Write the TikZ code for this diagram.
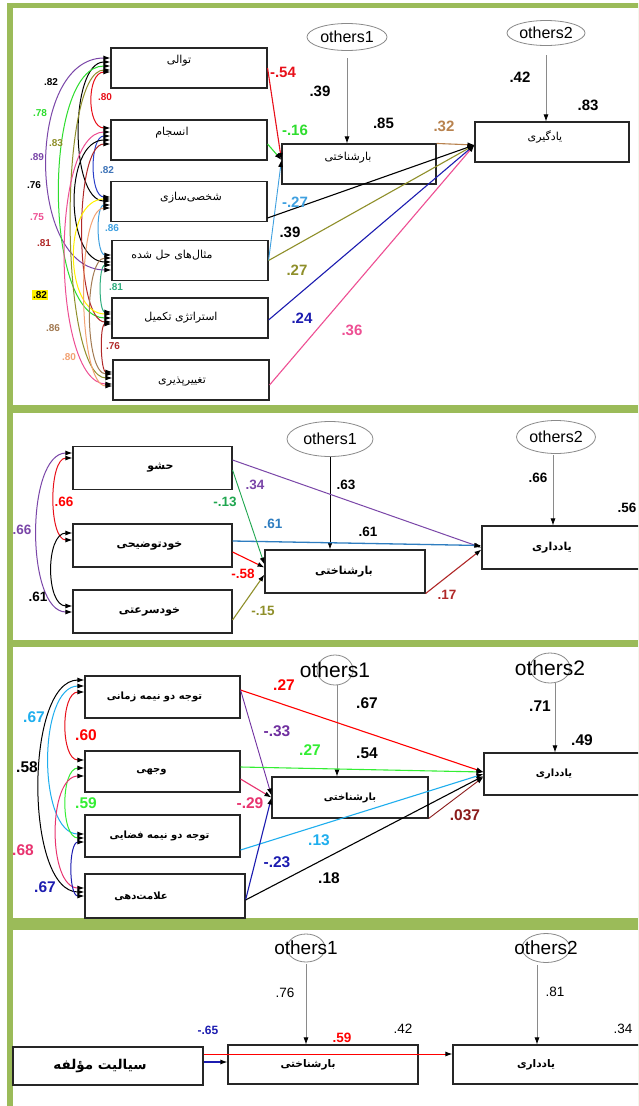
\documentclass[tikz,border=0pt]{standalone}
\usepackage{fontspec}
\setmainfont{Liberation Sans}
\newfontfamily\fa[Script=Arabic]{DejaVu Sans}
\TeXXeTstate=1
\usetikzlibrary{arrows.meta,shapes.geometric}
\definecolor{frameg}{HTML}{9BBB59}
\definecolor{cred}{HTML}{E8101A}
\definecolor{cgreen}{HTML}{2EDD2E}
\definecolor{cgreentwo}{HTML}{1FA64F}
\definecolor{clblue}{HTML}{3FA0E0}
\definecolor{colive}{HTML}{8F8F2A}
\definecolor{cnavy}{HTML}{1C1CB0}
\definecolor{cpink}{HTML}{EE4F93}
\definecolor{cbrown}{HTML}{B8824E}
\definecolor{cpurple}{HTML}{7A46A8}
\definecolor{csteel}{HTML}{3F74B8}
\definecolor{cteal}{HTML}{2FAE7E}
\definecolor{cdred}{HTML}{B02828}
\definecolor{ctan}{HTML}{A27A52}
\definecolor{corange}{HTML}{F2A273}
\definecolor{cyellow}{HTML}{FFF200}
\definecolor{cdblue}{HTML}{2A3FC8}
\definecolor{pblue}{HTML}{1EAEEE}
\definecolor{pgreen}{HTML}{33EE33}
\definecolor{ppink}{HTML}{E8336F}
\definecolor{ppurple}{HTML}{7030A0}
\definecolor{pdred}{HTML}{8B1C1C}
\definecolor{psteel}{HTML}{2E7DC0}
\definecolor{ogray}{HTML}{8A8A8A}
% raise, double horizontal shift, text
\newcommand{\liftt}[3]{\raisebox{#1}[0pt][0pt]{\makebox[0pt]{\hspace*{#2}#3}}}
% double horizontal shift, text
\newcommand{\hsft}[2]{\makebox[0pt]{\hspace*{#1}#2}}
\tikzset{
  >={Latex[length=7pt,width=5pt,color=black]},
  box/.style={draw=black!85, line width=1.1pt, rectangle, inner sep=0pt},
  boxa/.style={box, minimum width=156pt, minimum height=40pt, font=\fa\fontsize{11}{12}\selectfont},
  boxb/.style={box, minimum height=43pt, font=\fa\bfseries\fontsize{11}{13}\selectfont},
  boxc/.style={box, minimum height=42pt, font=\fa\bfseries\fontsize{10}{12}\selectfont},
  boxd/.style={box, minimum height=39pt, font=\fa\bfseries\fontsize{10.5}{12}\selectfont},
  oth/.style={ellipse, draw=ogray, line width=0.8pt, inner sep=0pt},
  oarr/.style={->, draw=ogray, line width=0.8pt},
  pth/.style={->, line width=1.1pt},
  cov/.style={<->, line width=1pt},
  lb/.style={inner sep=0pt, font=\bfseries\fontsize{15}{15}\selectfont},
  lc/.style={inner sep=0pt, font=\bfseries\fontsize{10}{10}\selectfont},
  ld/.style={inner sep=0pt, font=\bfseries\fontsize{13.5}{13.5}\selectfont},
  le/.style={inner sep=0pt, font=\bfseries\fontsize{15.5}{15.5}\selectfont},
  lf/.style={inner sep=0pt, font=\fontsize{13.5}{13.5}\selectfont},
}
\begin{document}
\begin{tikzpicture}[x=1pt,y=-1pt]
\useasboundingbox (0,0) rectangle (638,1106);
\clip (0,0) rectangle (638,1106);
\fill[white] (0,0) rectangle (638,1106);
% frames
\fill[frameg] (7,3) rectangle (640,1110);
\fill[white] (13,8) rectangle (640,405);
\fill[white] (13,413) rectangle (640,640);
\fill[white] (13,647) rectangle (640,918);
\fill[white] (13,930) rectangle (640,1110);

%================ PANEL 1
\node[boxa] (p1a) at (189,68) {\liftt{5pt}{-20pt}{\beginR توالی\endR}};
\node[boxa] (p1b) at (189,140) {\liftt{5pt}{-34pt}{\beginR انسجام\endR}};
\node[boxa] (p1c) at (189,201.5) {\liftt{1.5pt}{4pt}{\beginR شخصی‌سازی\endR}};
\node[boxa] (p1d) at (190,260.5) {\liftt{2.5pt}{-36pt}{\beginR مثال‌های حل شده\endR}};
\node[boxa] (p1e) at (190,318) {\liftt{-2pt}{-18pt}{\beginR استراتژی تکمیل\endR}};
\node[boxa] (p1f) at (191,380) {\liftt{-3pt}{-18pt}{\beginR تغییرپذیری\endR}};
\node[boxa, minimum width=154pt] (p1k) at (359,164) {\liftt{4pt}{-22pt}{\beginR بارشناختی\endR}};
\node[boxa, minimum width=154pt] (p1y) at (552,142) {\liftt{2pt}{-14pt}{\beginR یادگیری\endR}};
\node[oth, minimum width=80pt, minimum height=27pt, font=\fontsize{16}{16}\selectfont] (p1o1) at (347,37) {others1};
\node[oth, minimum width=78pt, minimum height=25pt, font=\fontsize{16}{16}\selectfont] (p1o2) at (546,33) {others2};
\draw[oarr, shorten <=7.5pt] (p1o1.south) -- (p1o1.south |- p1k.north);
\draw[oarr, shorten <=9.5pt] (p1o2.south) -- (p1o2.south |- p1y.north);

% covariances panel 1
\draw[cov, cred]    ([yshift=-4pt]p1a.west)  .. controls +(-24,0) and +(-24,0) .. ([yshift=12pt]p1b.west);
\draw[cov, cdblue]  ([yshift=4pt]p1b.west)   .. controls +(-21,0) and +(-21,0) .. ([yshift=4.5pt]p1c.west);
\draw[cov, clblue]  ([yshift=-3.5pt]p1c.west) .. controls +(-15,0) and +(-15,0) .. ([yshift=5.5pt]p1d.west);
\draw[cov, cteal]   ([yshift=-4.5pt]p1d.west) .. controls +(-13,0) and +(-13,0) .. ([yshift=6pt]p1e.west);
\draw[cov, cdred]   ([yshift=-6pt]p1e.west)  .. controls +(-12,0) and +(-12,0) .. ([yshift=8pt]p1f.west);
\draw[cov, black]   ([yshift=6pt]p1a.west)   .. controls +(-41,0) and +(-41,0) .. ([yshift=0.5pt]p1c.west);
\draw[cov, cpurple] ([yshift=10pt]p1a.west)  .. controls +(-85,0) and +(-85,0) .. ([yshift=-9.5pt]p1d.west);
\draw[cov, cgreen]  ([yshift=2pt]p1a.west)   .. controls +(-68,0) and +(-68,0) .. (p1e.west);
\draw[cov, colive]  ([yshift=-2pt]p1a.west)  .. controls +(-53,0) and +(-53,0) .. ([yshift=2pt]p1f.west);
\draw[cov, black]   (p1b.west)               .. controls +(-47,0) and +(-47,0) .. ([yshift=-1.5pt]p1d.west);
\draw[cov, cdred]   ([yshift=-4pt]p1b.west)  .. controls +(-37,0) and +(-37,0) .. ([yshift=-4pt]p1e.west);
\draw[cov, cpink]   ([yshift=8pt]p1b.west)   .. controls +(-61,0) and +(-61,0) .. ([yshift=-4pt]p1f.west);
\draw[cov, cyellow] ([yshift=2.5pt]p1c.west) .. controls +(-48,0) and +(-48,0) .. ([yshift=4pt]p1e.west);
\draw[cov, corange] ([yshift=-6.5pt]p1c.west) .. controls +(-35,0) and +(-35,0) .. ([yshift=-6pt]p1f.west);
\draw[cov, ctan]    ([yshift=2.5pt]p1d.west) .. controls +(-28,0) and +(-28,0) .. ([yshift=6pt]p1f.west);

% paths panel 1
\draw[pth, cred]   (p1a.east) -- ([yshift=4pt]p1k.west);
\draw[pth, cgreen] ([yshift=-4pt]p1b.east) -- ([yshift=4pt]p1k.west);
\draw[pth, clblue, line width=0.9pt] (p1d.east) -- ([yshift=4pt]p1k.west);
\draw[pth, black]  ([yshift=-16.5pt]p1c.east) -- ([yshift=-3pt]p1y.west);
\draw[pth, colive] (p1d.east) -- ([yshift=-3pt]p1y.west);
\draw[pth, cnavy]  ([yshift=-2pt]p1e.east) -- ([yshift=-3pt]p1y.west);
\draw[pth, cpink]  ([yshift=-5pt]p1f.east) -- ([yshift=-3pt]p1y.west);
\draw[pth, cbrown] (p1k.north east) -- ([yshift=-3pt]p1y.west);

% labels panel 1
\node[lb, text=cred]   (q1)  at (283,72)  {-.54};
\node[lb]              (q2)  at (320,91)  {.39};
\node[lb, text=cgreen] (q3)  at (295,130) {-.16};
\node[lb]              (q4)  at (383.5,123) {.85};
\node[lb, text=cbrown] (q5)  at (444,126) {.32};
\node[lb]              (q6)  at (520,77)  {.42};
\node[lb]              (q7)  at (588,105) {.83};
\node[lb, text=clblue] (q8)  at (295,202) {-.27};
\node[lb]              (q9)  at (290,232) {.39};
\node[lb, text=colive] (q10) at (297,270) {.27};
\node[lb, text=cnavy]  (q11) at (302,318) {.24};
\node[lb, text=cpink]  (q12) at (352,330) {.36};

\node[lc]               (c1)  at (51,82)  {.82};
\node[lc, text=cred]    (c2)  at (105,97) {.80};
\node[lc, text=cgreen]  (c3)  at (40,113) {.78};
\node[lc, text=colive]  (c4)  at (56,143) {.83};
\node[lc, text=cpurple] (c5)  at (37,157) {.89};
\node[lc, text=csteel]  (c6)  at (107,170) {.82};
\node[lc]               (c7)  at (34,185) {.76};
\node[lc, text=cpink]   (c8)  at (37,217) {.75};
\node[lc, text=clblue]  (c9)  at (112,228) {.86};
\node[lc, text=cdred]   (c10) at (44,243) {.81};
\node[lc, text=cteal]   (c11) at (116,287) {.81};
\node[lc, fill=yellow, inner sep=1pt] (c12) at (40,295) {.82};
\node[lc, text=ctan]    (c13) at (53,328) {.86};
\node[lc, text=cdred]   (c14) at (113,346) {.76};
\node[lc, text=corange] (c15) at (69,357) {.80};

%================ PANEL 2
\node[boxb, minimum width=159pt] (p2a) at (152.5,468) {\hsft{16pt}{\beginR حشو\endR}};
\node[boxb, minimum width=159pt] (p2b) at (152.5,545.5) {\hsft{-6pt}{\beginR خودتوضیحی\endR}};
\node[boxb, minimum width=159pt] (p2c) at (152.5,611.5) {\hsft{-6pt}{\beginR خودسرعتی\endR}};
\node[boxb, minimum width=160pt] (p2k) at (345,571.5) {\hsft{-2pt}{\beginR بارشناختی\endR}};
\node[boxb, minimum width=160pt] (p2y) at (562,547.5) {\hsft{-20pt}{\beginR یادداری\endR}};
\node[oth, minimum width=86pt, minimum height=35pt, font=\fontsize{16}{16}\selectfont] (p2o1) at (330,439) {others1};
\node[oth, minimum width=79pt, minimum height=33pt, font=\fontsize{16}{16}\selectfont] (p2o2) at (556,437) {others2};
\draw[->, line width=0.9pt] (p2o1.south) -- (p2o1.south |- p2k.north);
\coordinate (p2oc) at ([xshift=-3pt]p2o2.south);
\draw[oarr, shorten <=1.5pt] (p2oc) -- (p2oc |- p2y.north);

\draw[cov, cred]    ([yshift=10pt]p2a.west)  .. controls +(-24,0) and +(-24,0) .. ([yshift=5.5pt]p2b.west);
\draw[cov, cpurple] ([yshift=15pt]p2a.west)  .. controls +(-47,0) and +(-47,0) .. ([yshift=-0.5pt]p2c.west);
\draw[cov, black]   ([yshift=12.5pt]p2b.west) .. controls +(-27,0) and +(-27,0) .. ([yshift=5.5pt]p2c.west);

\draw[pth, cpurple, line width=1pt] ([yshift=8pt]p2a.east) -- (p2y.west);
\draw[pth, psteel, line width=1.3pt] ([yshift=4.5pt]p2b.east) -- ([yshift=2pt]p2y.west);
\draw[pth, cdred] (p2k.south east) -- ([yshift=-2pt]p2y.west);
\draw[pth, cgreentwo, line width=0.9pt] ([yshift=-2pt]p2a.east) -- ([yshift=7pt]p2k.west);
\draw[pth, red] ([yshift=-6.5pt]p2b.east) -- ([yshift=4pt]p2k.west);
\draw[pth, colive] ([yshift=-8.5pt]p2c.east) -- ([yshift=-3pt]p2k.west);

\node[ld, text=cpurple]   (r1) at (255,485) {.34};
\node[ld, text=cgreentwo] (r2) at (225,502) {-.13};
\node[ld, text=psteel]    (r3) at (273,524) {.61};
\node[ld, text=red]       (r4) at (243,574) {-.58};
\node[ld, text=colive]    (r5) at (263,611) {-.15};
\node[ld, text=red]       (r6) at (64,502)  {.66};
\node[ld, text=cpurple]   (r7) at (22,530)  {.66};
\node[ld]                 (r8) at (38,597)  {.61};
\node[ld]                 (r9) at (346,485) {.63};
\node[ld]                 (r10) at (368,532) {.61};
\node[ld, text=cdred]     (r11) at (447,595) {.17};
\node[ld]                 (r12) at (538,478) {.66};
\node[ld]                 (r13) at (627,508) {.56};

%================ PANEL 3
\node[boxc, minimum width=155pt] (p3a) at (162.5,697) {\hsft{-16pt}{\beginR توجه دو نیمه زمانی\endR}};
\node[boxc, minimum width=155pt, minimum height=41pt] (p3b) at (162.5,771.5) {\hsft{-22pt}{\beginR وجهی\endR}};
\node[boxc, minimum width=155pt] (p3c) at (162.5,836) {\hsft{-6pt}{\beginR توجه دو نیمه فضایی\endR}};
\node[boxc, minimum width=160pt, minimum height=44pt] (p3d) at (165,896) {\hsft{-48pt}{\beginR علامت‌دهی\endR}};
\node[boxc, minimum width=156pt, minimum height=41pt] (p3k) at (350,797.5) {\beginR بارشناختی\endR};
\node[boxc, minimum width=160pt] (p3y) at (564,774) {\hsft{-20pt}{\beginR یادداری\endR}};
\node[oth, minimum width=36pt, minimum height=30pt, font=\fontsize{21}{21}\selectfont] (p3o1) at (335,670) {\makebox[0pt]{others1}};
\node[oth, minimum width=40pt, minimum height=30pt, font=\fontsize{21}{21}\selectfont] (p3o2) at (550,668) {\makebox[0pt]{others2}};
\coordinate (p3c1) at ([xshift=2pt]p3o1.south);
\coordinate (p3c2) at ([xshift=5pt]p3o2.south);
\draw[oarr] (p3c1) -- (p3c1 |- p3k.north);
\draw[oarr] (p3c2) -- (p3c2 |- p3y.north);

\draw[cov, cred]    ([yshift=5pt]p3a.west)   .. controls +(-24,0) and +(-24,0) .. ([yshift=11.5pt]p3b.west);
\draw[cov, pblue]   ([yshift=11pt]p3a.west)  .. controls +(-47,0) and +(-47,0) .. ([yshift=2pt]p3c.west);
\draw[cov, black]   ([yshift=17pt]p3a.west)  .. controls +(-60,0) and +(-60,0) .. ([yshift=4pt]p3d.west);
\draw[cov, pgreen]  ([yshift=3.5pt]p3b.west) .. controls +(-24,0) and +(-24,0) .. ([yshift=-2pt]p3c.west);
\draw[cov, ppink]   ([yshift=-4.5pt]p3b.west) .. controls +(-37,0) and +(-37,0) .. ([yshift=8pt]p3d.west);
\draw[cov, cnavy]   ([yshift=-6pt]p3c.west)  .. controls +(-16,0) and +(-16,0) .. (p3d.west);

\draw[pth, red]     ([yshift=7pt]p3a.east)   -- ([yshift=2pt]p3y.west);
\draw[pth, ppurple, line width=0.9pt] ([yshift=7pt]p3a.east) -- ([yshift=2pt]p3k.west);
\draw[pth, pgreen]  ([yshift=4.5pt]p3b.east) -- ([yshift=2pt]p3y.west);
\draw[pth, ppink]   ([yshift=-7.5pt]p3b.east) -- (p3k.west);
\draw[pth, pblue]   ([yshift=-14pt]p3c.east) -- (p3y.west);
\draw[pth, cnavy]   ([yshift=-4pt]p3d.east)  -- (p3k.west);
\draw[pth, black]   ([yshift=-4pt]p3d.east)  -- ([yshift=-2pt]p3y.west);
\draw[pth, pdred, line width=0.9pt] (p3k.south east) -- ([yshift=-3pt]p3y.west);

\node[le, text=red]     (s1)  at (284,685) {.27};
\node[le, text=ppurple] (s2)  at (277,731) {-.33};
\node[le, text=pgreen]  (s3)  at (310,750) {.27};
\node[le, text=pblue]   (s4)  at (34,717)  {.67};
\node[le, text=red]     (s5)  at (86,735)  {.60};
\node[le]               (s6)  at (27,767)  {.58};
\node[le, text=pgreen]  (s7)  at (86,803)  {.59};
\node[le, text=ppink]   (s8)  at (250,803) {-.29};
\node[le, text=ppink]   (s9)  at (23,850)  {.68};
\node[le, text=cnavy]   (s10) at (277,862) {-.23};
\node[le, text=cnavy]   (s11) at (45,887)  {.67};
\node[le]               (s12) at (367,703) {.67};
\node[le]               (s13) at (367,753) {.54};
\node[le, text=pblue]   (s14) at (319,840) {.13};
\node[le]               (s15) at (329,878) {.18};
\node[le, text=pdred]   (s16) at (465,815) {.037};
\node[le]               (s17) at (540,706) {.71};
\node[le]               (s18) at (582,740) {.49};

%================ PANEL 4
\node[boxd, minimum width=190pt, minimum height=38pt, font=\fa\bfseries\fontsize{13.5}{14}\selectfont] (p4a) at (108,1066) {\hsft{-16pt}{\beginR سیالیت مؤلفه\endR}};
\node[boxd, minimum width=190pt] (p4k) at (323,1064.5) {\hsft{-30pt}{\beginR بارشناختی\endR}};
\node[boxd, minimum width=192pt] (p4y) at (549,1064.5) {\hsft{-26pt}{\beginR یادداری\endR}};
\node[oth, minimum width=38pt, minimum height=28pt, font=\fontsize{19}{19}\selectfont] (p4o1) at (306,948) {\makebox[0pt]{others1}};
\node[oth, minimum width=48pt, minimum height=29pt, font=\fontsize{19}{19}\selectfont] (p4o2) at (546,948) {\makebox[0pt]{others2}};
\coordinate (p4c1) at (p4o1.south);
\coordinate (p4c2) at ([xshift=-9pt]p4o2.south);
\draw[oarr, shorten <=2pt] (p4c1) -- (p4c1 |- p4k.north);
\draw[oarr, shorten <=2pt] (p4c2) -- (p4c2 |- p4y.north);
\draw[pth, cnavy] ([yshift=4pt]p4a.east) -- ([yshift=2.5pt]p4k.west);
\draw[pth, red, line width=1pt] ([yshift=12pt]p4a.east) -- ([yshift=10.5pt]p4y.west);

\node[lf]              (t1) at (285,993)  {.76};
\node[lf]              (t2) at (555,992)  {.81};
\node[inner sep=0pt, font=\bfseries\fontsize{12}{12}\selectfont, text=cnavy] (t3) at (208,1030) {-.65};
\node[ld, text=red]    (t4) at (342,1038) {.59};
\node[lf]              (t5) at (403,1029) {.42};
\node[lf]              (t6) at (623,1029) {.34};
\end{tikzpicture}
\end{document}
